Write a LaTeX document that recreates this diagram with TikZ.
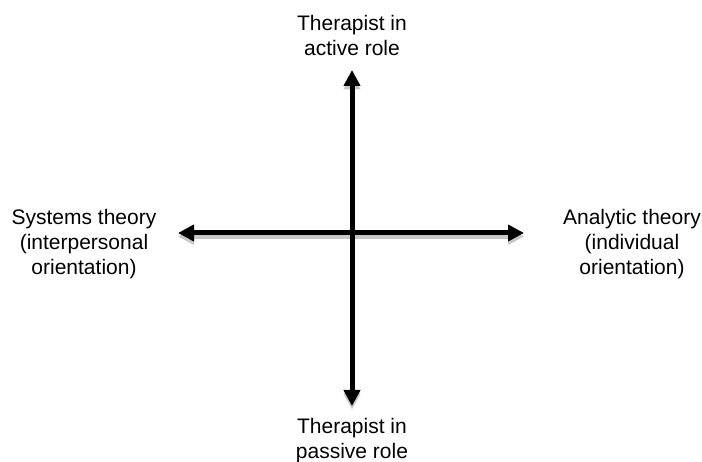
\documentclass[tikz,border=0pt]{standalone}
\usepackage{fontspec}
\setmainfont{Liberation Sans}
\usetikzlibrary{arrows.meta, positioning}

\tikzset{
  axis/.style={line width=5pt, {Triangle[length=16pt,width=16pt]}-{Triangle[length=16pt,width=16pt]}},
  axisshadow/.style={axis, draw=black!22, fill=black!22},
  pole/.style={align=center, inner sep=0pt, font=\fontsize{21}{25}\selectfont}
}

\begin{document}
\begin{tikzpicture}[x=1pt, y=-1pt]
            \useasboundingbox (0,0) rectangle (702,462);
            % arrow ends
            \coordinate (top) at (352,70);
            \coordinate (bot) at (352,406);
            \coordinate (lft) at (178,233);
            \coordinate (rgt) at (524,233);
            % shadows
            \draw[axisshadow] ([yshift=-3.5pt]lft) -- ([yshift=-3.5pt]rgt);
            \draw[axisshadow] ([yshift=-3.5pt]top) -- ([yshift=-3.5pt]bot);
            % axes
            \draw[axis] (lft) -- (rgt);
            \draw[axis] (top) -- (bot);
            % labels
            \node[pole, anchor=north] (active) at (352,15) {Therapist in\\active role};
            \node[pole, anchor=north] (passive) at (352,418) {Therapist in\\passive role};
            \node[pole, anchor=north] (systems) at (84,209) {Systems theory\\(interpersonal\\orientation)};
            \node[pole, anchor=north] (analytic) at (632,209) {Analytic theory\\(individual\\orientation)};
        \end{tikzpicture}
\end{document}
